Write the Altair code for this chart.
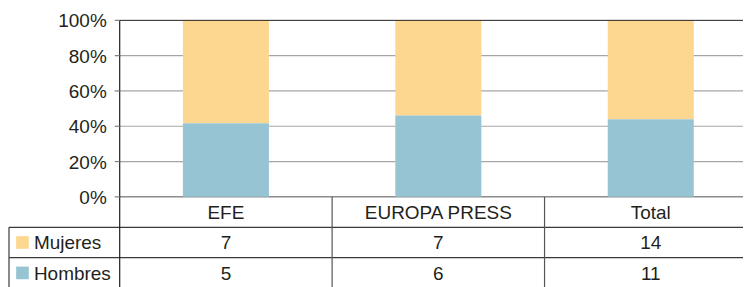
import altair as alt
import pandas as pd

# ---- data ----
categories = ["EFE", "EUROPA PRESS", "Total"]
series = ["Mujeres", "Hombres"]
mujeres = [7, 7, 14]
hombres = [5, 6, 11]
colors = ["#FDD68F", "#97C4D3"]
y_ticks = [0, 0.2, 0.4, 0.6, 0.8, 1.0]
y_tick_labels = ["0%", "20%", "40%", "60%", "80%", "100%"]
grid_levels = [0.2, 0.4, 0.6, 0.8]

# ---- layout constants ----
W = 625          # visible plot width (page is 752 wide)
XR = 639         # band range: three equal columns, last one cut off at the edge
P = 177          # pixels for 0..100 %
R = 30.5         # table row height
H = P + 3 * R
ymin = -3 * R / P
LEFT = 111       # width of the row-label column
FONT = "Liberation Sans"
FS = 19
LINE = "#231F20"

def row_y(k):
    return -k * R / P

bar_rows = []
for c, m, h in zip(categories, mujeres, hombres):
    bar_rows.append({"cat": c, "serie": "Mujeres", "v": m, "ord": 1})
    bar_rows.append({"cat": c, "serie": "Hombres", "v": h, "ord": 0})
bars_df = pd.DataFrame(bar_rows)

yscale = alt.Scale(domain=[ymin, 1], nice=False, zero=False)
xscale = alt.Scale(domain=categories, range=[0, XR], paddingInner=0, paddingOuter=0)
cscale = alt.Scale(domain=series, range=colors)

def Xc(**kw):
    return alt.X("cat:N", scale=xscale, axis=None, **kw)

def Yq(field, **kw):
    return alt.Y(field, scale=yscale, axis=None, **kw)

# y axis: labels, ticks and axis line through the y scale
tick_df = pd.DataFrame({"y": y_ticks, "lab": y_tick_labels})
tick_labels = alt.Chart(tick_df).mark_text(
    font=FONT, fontSize=FS, color=LINE, align="right", baseline="middle", dy=1).encode(
    x=alt.value(-13), y=Yq("y:Q"), text="lab:N")
tick_marks = alt.Chart(tick_df).mark_rule(color="#7f7f7f", strokeWidth=1.2).encode(
    x=alt.value(-5), x2=alt.value(0), y=Yq("y:Q"))
axis_line = alt.Chart(pd.DataFrame({"y0": [ymin], "y1": [1]})).mark_rule(
    color=LINE, strokeWidth=1.2).encode(x=alt.value(0), y=Yq("y0:Q"), y2="y1:Q")

bars = alt.Chart(bars_df).mark_bar(width=alt.RelativeBandSize(0.405)).encode(
    x=Xc(),
    y=alt.Y("v:Q", stack="normalize", scale=yscale, axis=None),
    color=alt.Color("serie:N", scale=cscale, legend=None),
    order=alt.Order("ord:Q"),
)

grid = alt.Chart(pd.DataFrame({"y": grid_levels})).mark_rule(
    color="#A6A6A6", strokeWidth=1.2).encode(y=Yq("y:Q"))
zero_line = alt.Chart(pd.DataFrame({"y": [0]})).mark_rule(
    color="#8c8c8c", strokeWidth=1.5).encode(y=Yq("y:Q"))
top_line = alt.Chart(pd.DataFrame({"y": [1]})).mark_rule(
    color=LINE, strokeWidth=1).encode(y=Yq("y:Q"))

# table horizontal lines (header bottom, row bottoms)
hl = alt.Chart(pd.DataFrame({"y": [row_y(1), row_y(2), row_y(3)]})).mark_rule(
    color="#3a3a3a", strokeWidth=1.2).encode(
    x=alt.value(-LEFT), x2=alt.value(W), y=Yq("y:Q"))

# table vertical lines between columns
vl_df = pd.DataFrame({"cat": categories[1:], "y0": [0] * 2, "y1": [ymin] * 2})
vl = alt.Chart(vl_df).mark_rule(color="#555555", strokeWidth=1.2).encode(
    x=Xc(bandPosition=0), y=Yq("y0:Q"), y2="y1:Q")

left_border = alt.Chart(pd.DataFrame({"y0": [row_y(1)], "y1": [ymin]})).mark_rule(
    color="#3a3a3a", strokeWidth=1.2).encode(
    x=alt.value(-LEFT), y=Yq("y0:Q"), y2="y1:Q")

# header text
hdr = alt.Chart(pd.DataFrame({"cat": categories, "y": [row_y(0.5)] * 3})).mark_text(
    font=FONT, fontSize=FS, color=LINE, baseline="middle", dy=1).encode(
    x=Xc(), y=Yq("y:Q"), text="cat:N")

# value cells
cell_rows = []
for c, m, h in zip(categories, mujeres, hombres):
    cell_rows.append({"cat": c, "y": row_y(1.5), "t": str(m)})
    cell_rows.append({"cat": c, "y": row_y(2.5), "t": str(h)})
cells = alt.Chart(pd.DataFrame(cell_rows)).mark_text(
    font=FONT, fontSize=FS, color=LINE, baseline="middle", dy=1).encode(
    x=Xc(), y=Yq("y:Q"), text="t:N")

# row labels + swatches
lab_df = pd.DataFrame({"serie": series, "y": [row_y(1.5), row_y(2.5)]})
labels = alt.Chart(lab_df).mark_text(
    font=FONT, fontSize=FS, color=LINE, baseline="middle", align="left", dy=1).encode(
    x=alt.value(-86), y=Yq("y:Q"), text="serie:N")
swatches = alt.Chart(lab_df).mark_square(size=160, opacity=1).encode(
    x=alt.value(-97.5), y=Yq("y:Q"),
    color=alt.Color("serie:N", scale=cscale, legend=None))

chart = alt.layer(
    grid, zero_line, bars, top_line, hl, vl, left_border, axis_line, tick_marks,
    tick_labels, hdr, cells, labels, swatches
).properties(
    width=W, height=H, background="white",
    padding={"left": 0, "top": 4, "right": 0, "bottom": 0},
).configure_view(stroke=None)

chart.save("out.html", embed_options={"renderer": "svg", "actions": False})
